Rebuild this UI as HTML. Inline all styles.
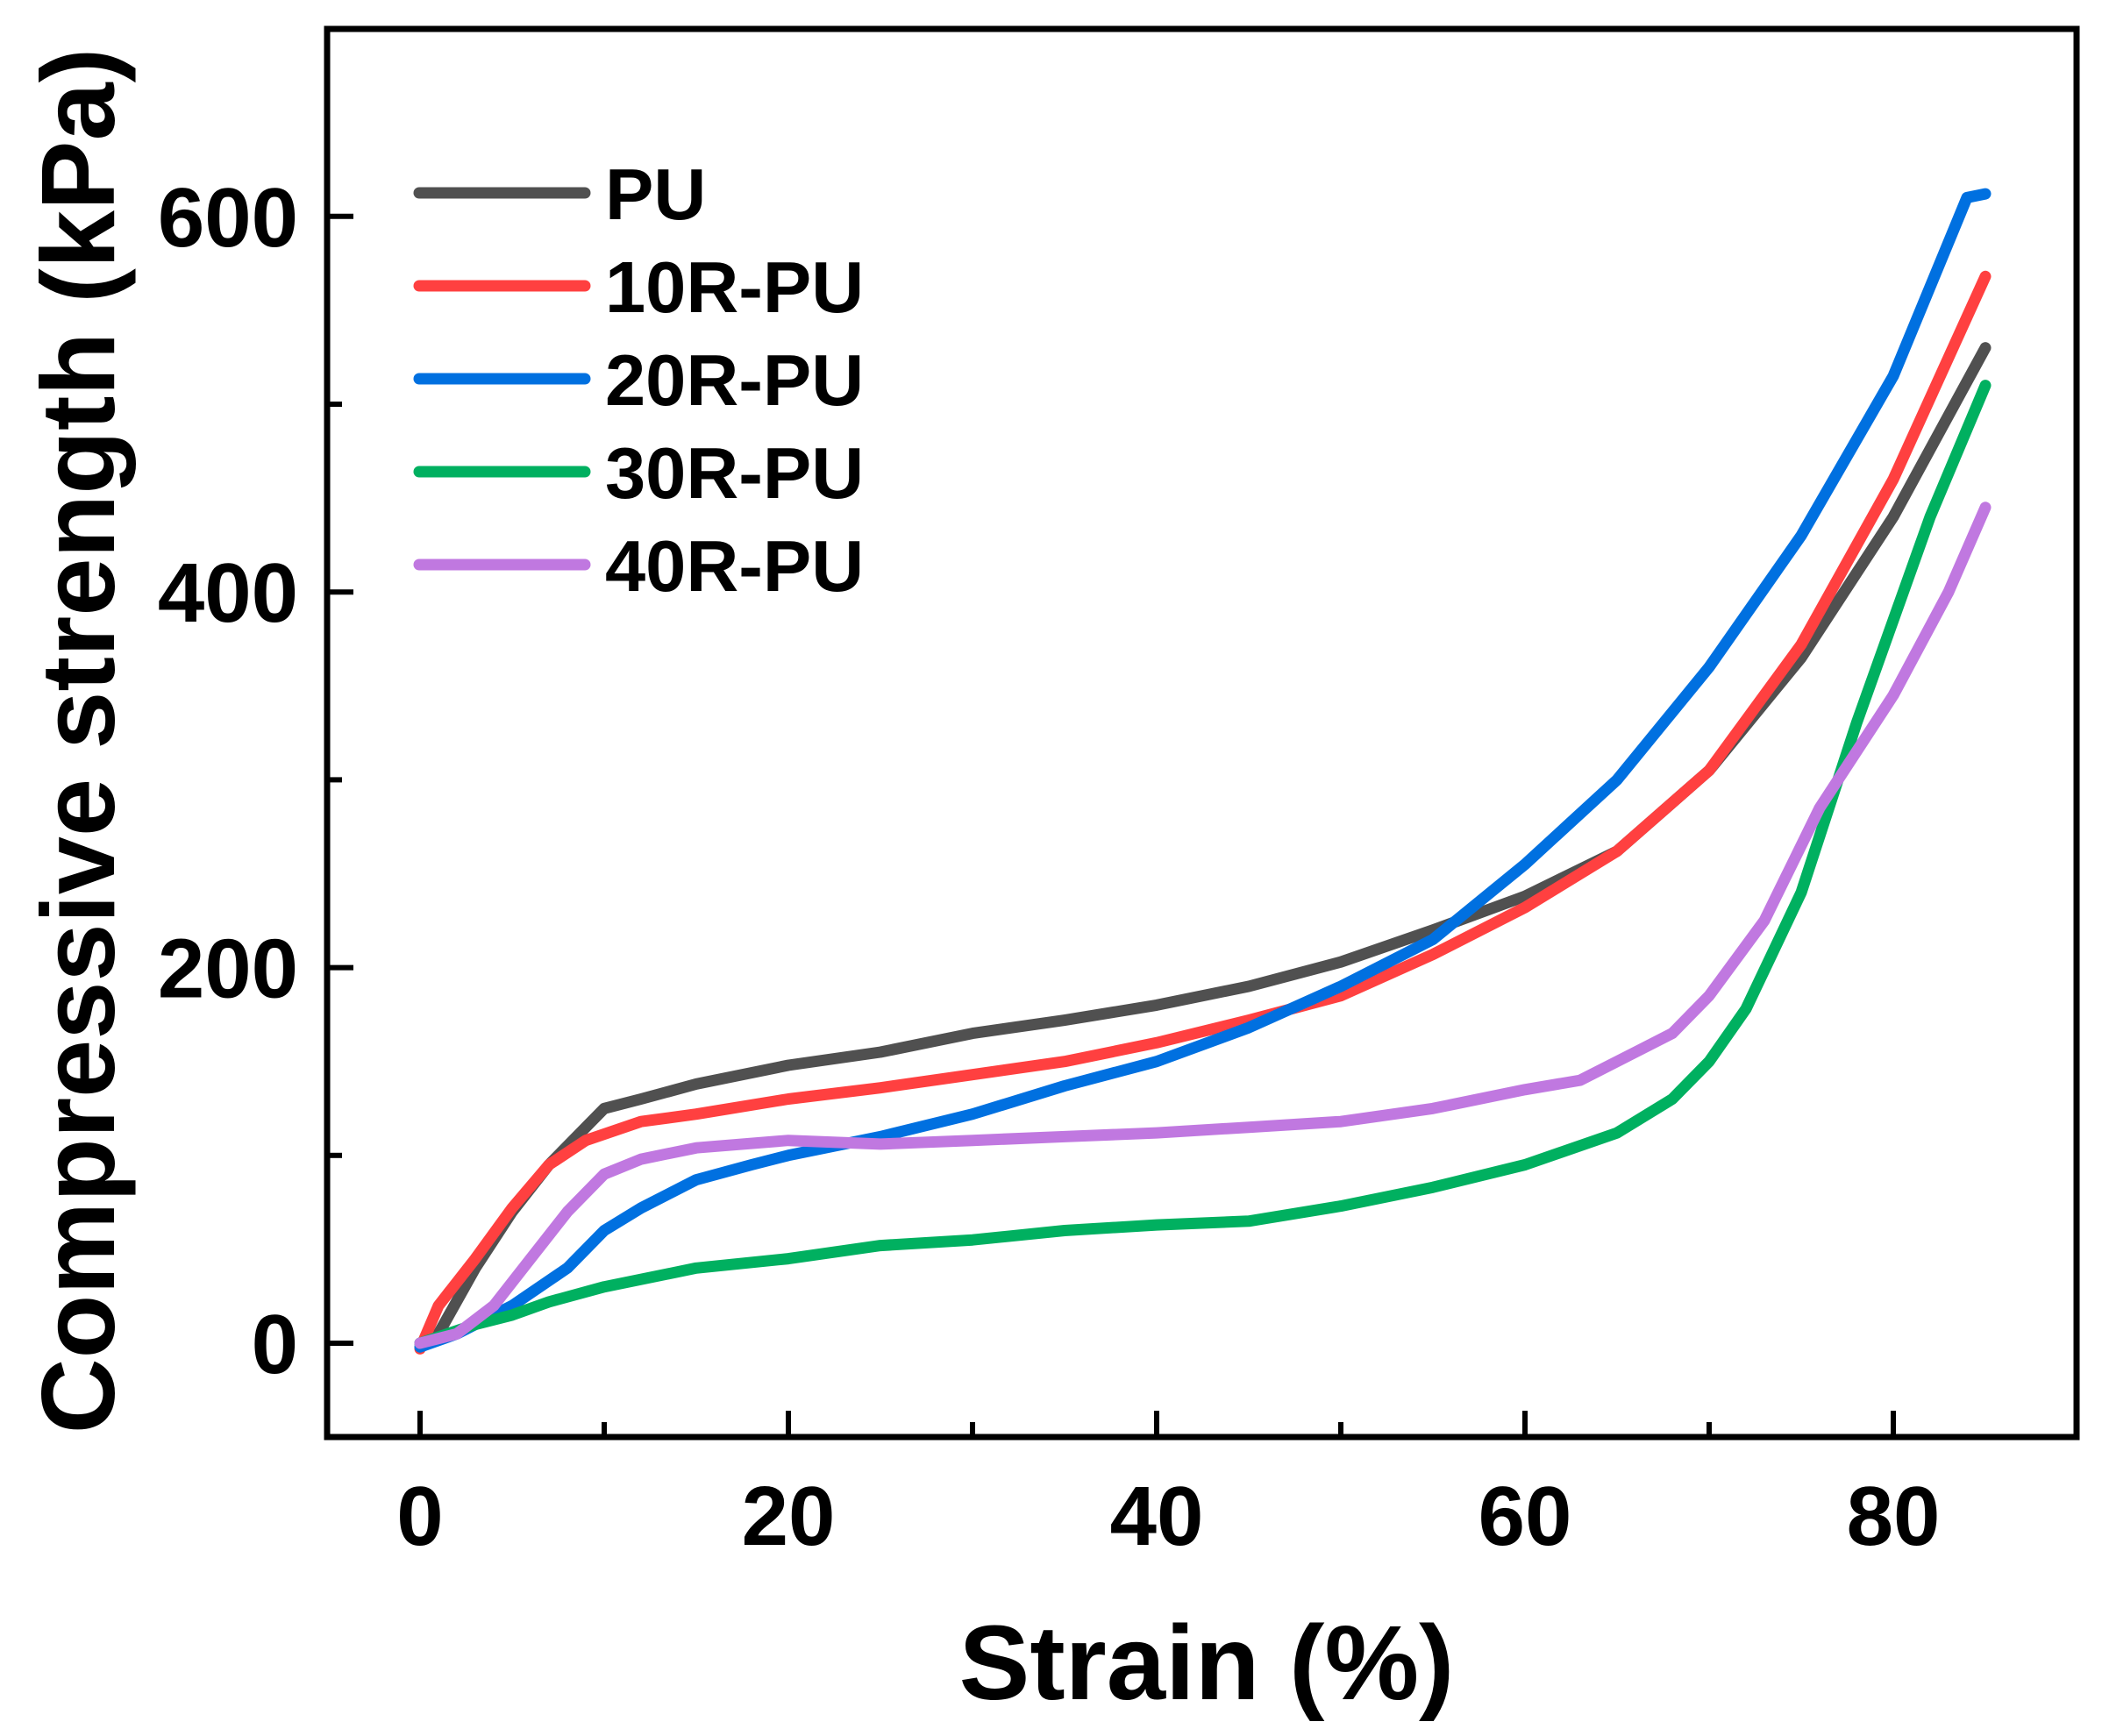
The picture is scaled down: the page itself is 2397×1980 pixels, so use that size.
<!DOCTYPE html>
<html><head><meta charset="utf-8"><style>html,body{margin:0;padding:0;background:#fff}</style></head>
<body>
<svg id="s" width="2397" height="1975" xmlns="http://www.w3.org/2000/svg" font-family="Liberation Sans, sans-serif" font-weight="bold">
<rect width="2397" height="1975" fill="#fff"/>
<g id="curves" fill="none" stroke-width="13" stroke-linecap="round" stroke-linejoin="round"></g>
<rect x="373" y="33" width="1995" height="1606" fill="none" stroke="#000" stroke-width="7"/>
<g id="ticks" stroke="#000" stroke-width="6"></g>
<g font-size="96" text-anchor="end" id="yl"></g>
<g font-size="96" text-anchor="middle" id="xl"></g>
<text x="1376" y="1938" font-size="121" text-anchor="middle">Strain (%)</text>
<text transform="translate(130,845) rotate(-90)" font-size="119" text-anchor="middle">Compressive strength (kPa)</text>
<g id="leg" font-size="83"></g>
</svg>
<script>
const X=v=>479+21*v, Y=v=>1532-2.142*v;
const S=[
["#505050","PU",[[0,0],[1,5],[3,40],[5,70],[7,95],[9,115],[10,125],[12,130],[15,138],[20,148],[25,155],[30,165],[35,172],[40,180],[45,190],[50,203],[55,220],[60,238],[65,262],[70,305],[75,365],[80,440],[85,530]]],
["#ff4040","10R-PU",[[0,-3],[1,20],[3,45],[5,72],[7,95],[9,108],[12,118],[15,122],[20,130],[25,136],[30,143],[35,150],[40,160],[45,172],[50,185],[55,207],[60,232],[65,262],[70,305],[75,372],[80,460],[85,568]]],
["#0070e0","20R-PU",[[0,-2],[2,5],[5,20],[8,40],[10,60],[12,72],[15,87],[18,95],[20,100],[25,110],[30,122],[35,137],[40,150],[45,168],[50,190],[55,215],[60,255],[65,300],[70,360],[75,430],[80,515],[84,610],[85,612]]],
["#00b060","30R-PU",[[0,0],[3,10],[5,15],[7,22],[10,30],[15,40],[20,45],[25,52],[30,55],[35,60],[40,63],[45,65],[50,73],[55,83],[60,95],[65,112],[68,130],[70,150],[72,178],[75,240],[78,330],[80,385],[82,440],[85,510]]],
["#c078e0","40R-PU",[[0,0],[2,5],[4,20],[6,45],[8,70],[10,90],[12,98],[15,104],[20,108],[25,106],[30,108],[35,110],[40,112],[45,115],[50,118],[55,125],[60,135],[63,140],[66,155],[68,165],[70,185],[73,225],[76,285],[80,345],[83,400],[85,445]]]];
const ns="http://www.w3.org/2000/svg";
function el(p,t,a,txt){const e=document.createElementNS(ns,t);for(const k in a)e.setAttribute(k,a[k]);if(txt!==undefined)e.textContent=txt;document.getElementById(p).appendChild(e);}
S.forEach((s,i)=>{el("curves","polyline",{stroke:s[0],points:s[2].map(p=>X(p[0]).toFixed(1)+","+Y(p[1]).toFixed(1)).join(" ")});
const ly=220+106*i;el("curves","line",{stroke:s[0],x1:478,x2:667,y1:ly,y2:ly});el("leg","text",{x:690,y:ly+30},s[1]);});
for(let v=0;v<=80;v+=10){const big=v%20==0;el("ticks","line",{x1:X(v),x2:X(v),y1:1636,y2:1636-(big?27:14)});if(big)el("xl","text",{x:X(v),y:1762},v);}
for(let v=0;v<=600;v+=100){const big=v%200==0;el("ticks","line",{x1:376,x2:376+(big?27:14),y1:Y(v),y2:Y(v)});if(big)el("yl","text",{x:340,y:Y(v)+34},v);}
</script>
</body></html>
